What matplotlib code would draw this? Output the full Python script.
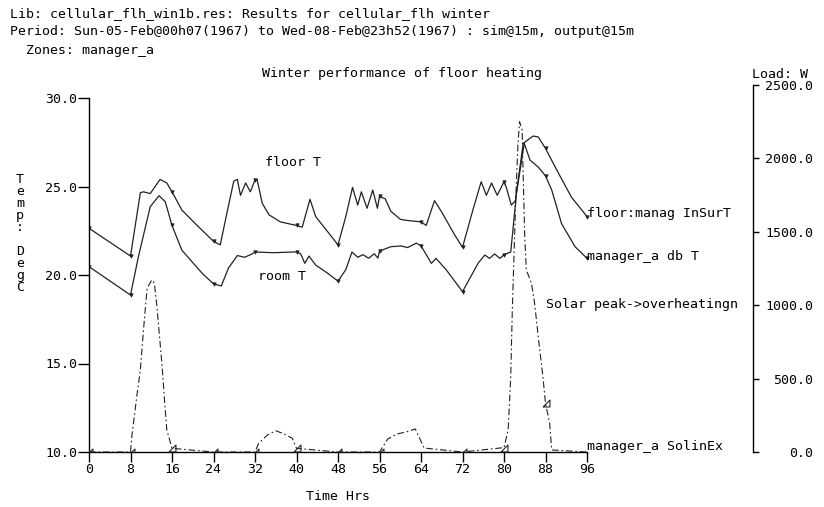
import matplotlib
matplotlib.use('Agg')
import matplotlib.pyplot as plt
from matplotlib.ticker import FixedLocator

# ---------------- data ----------------
floor_h = [0, 8, 9.9, 10.5, 11.8, 13.7, 15.0, 16.0, 17.9, 20.5, 24.0, 25.3, 26.3, 27.9, 28.6,
           29.2, 30.2, 31.1, 32.0, 32.4, 33.4, 34.7, 36.9, 40.0, 41.1, 42.6, 43.7, 46.0, 48.0,
           49.5, 50.8, 51.8, 52.5, 53.6, 54.7, 55.6, 56.0, 57.1, 58.2, 60.0, 60.8, 64.0, 65.0,
           66.6, 67.9, 70.5, 72.0, 74.0, 75.6, 76.6, 77.6, 78.7, 80.0, 80.5, 81.4, 82.2, 83.7,
           85.6, 86.6, 88.0, 90.5, 93.0, 96.0]
floor_T = [22.64, 21.07, 24.65, 24.7, 24.6, 25.4, 25.2, 24.7, 23.67, 22.9, 21.9, 21.7, 23.1, 25.3, 25.4,
           24.5, 25.2, 24.7, 25.37, 25.4, 24.05, 23.4, 23.0, 22.8, 22.7, 24.28, 23.3, 22.45, 21.7,
           23.3, 24.95, 23.95, 24.7, 23.77, 24.8, 23.77, 24.45, 24.3, 23.6, 23.15, 23.1, 23.0, 22.8,
           24.2, 23.6, 22.26, 21.56, 23.67, 25.27, 24.5, 25.2, 24.5, 25.27, 24.9, 23.95, 24.2, 27.44,
           27.85, 27.8, 27.15, 25.75, 24.4, 23.3]

room_h = [0, 8, 9.5, 11.8, 13.5, 14.7, 16.0, 17.9, 21.8, 24.0, 25.5, 26.9, 28.6, 30.0, 31.5,
          32.0, 35.6, 39.5, 40.0, 40.8, 41.6, 42.4, 43.7, 46.0, 48.0, 49.5, 50.7, 51.8, 52.8, 53.9,
          55.0, 55.7, 56.0, 58.2, 60.2, 61.4, 63.1, 64.0, 66.0, 66.9, 68.9, 72.0, 75.0, 76.3,
          77.2, 78.2, 79.2, 80.0, 81.3, 82.4, 83.9, 85.0, 86.6, 88.0, 89.2, 91.1, 93.7, 96.0]
room_T = [20.47, 18.87, 21.0, 23.86, 24.48, 24.14, 22.8, 21.4, 20.1, 19.5, 19.38, 20.4, 21.1, 21.0, 21.2,
          21.3, 21.26, 21.3, 21.3, 21.2, 20.66, 21.07, 20.56, 20.1, 19.65, 20.3, 21.3, 21.0, 21.15, 20.95,
          21.2, 20.95, 21.35, 21.6, 21.64, 21.55, 21.8, 21.65, 20.66, 20.94, 20.28, 19.06, 20.66, 21.13,
          20.94, 21.19, 20.94, 21.15, 21.3, 24.6, 27.44, 26.5, 26.1, 25.6, 24.8, 22.9, 21.6, 20.94]

sol_h = [0, 8, 8.25, 9.2, 9.9, 10.5, 11.2, 12.1, 12.6, 13.1, 14.1, 14.6, 15.0, 16, 24, 32, 32.7,
         34.4, 36.0, 37.6, 39.2, 40, 48, 56, 57.6, 59.4, 61.1, 62.9, 63.5, 64.6, 72, 80, 80.8,
         81.3, 81.6, 81.9, 82.3, 82.7, 83.0, 83.5, 83.7, 84.0, 84.3, 85.3, 85.9, 86.6, 87.5,
         88, 88.8, 89.2, 96]
sol_W = [0, 0, 104, 377, 559, 831, 1115, 1172, 1149, 990, 581, 332, 150, 25, 0, 0, 59,
         116, 145, 123, 93, 25, 0, 0, 89, 123, 136, 157, 111, 27, 0, 30, 150,
         513, 967, 1308, 1762, 2103, 2250, 2193, 1875, 1467, 1240, 1149, 1013, 785, 513,
         332, 196, 14, 0]

x_ticks = [0, 8, 16, 24, 32, 40, 48, 56, 64, 72, 80, 88, 96]
t_ticks = [10, 15, 20, 25, 30]
w_ticks = [0, 500, 1000, 1500, 2000, 2500]

header = ["Lib: cellular_flh_win1b.res: Results for cellular_flh winter",
          "Period: Sun-05-Feb@00h07(1967) to Wed-08-Feb@23h52(1967) : sim@15m, output@15m",
          "  Zones: manager_a"]
title = "Winter performance of floor heating"
ylabel_left = "Temp: DegC"
ylabel_right = "Load: W"
xlabel = "Time Hrs"

# ---------------- layout ----------------
W, H = 824, 507
FONT = 'DejaVu Sans Mono'
FS = 9.5
plt.rcParams['font.family'] = FONT
plt.rcParams['font.size'] = FS

fig = plt.figure(figsize=(W / 100, H / 100), dpi=100)
fig.patch.set_facecolor('white')

def fx(px):
    return px / W

def fy(py):
    return 1 - py / H

PX_HR = 5.1875
PX_DEG = 17.7
L, R, B, T = 89, 753, 452, 85
PT = 0.72  # points per pixel

ax = fig.add_axes([fx(L), fy(B), (R - L) / W, (B - T) / H])
ax.set_xlim(0, (R - L) / PX_HR)
ax.set_ylim(10, 10 + (B - T) / PX_DEG)
ax.patch.set_alpha(0)
ax2 = ax.twinx()
ax2.set_ylim(0, 2500)
ax2.patch.set_alpha(0)

for s in ['top', 'right']:
    ax.spines[s].set_visible(False)
for s in ['top', 'left', 'bottom']:
    ax2.spines[s].set_visible(False)
ax.spines['left'].set_bounds(10, 30)
ax.spines['bottom'].set_bounds(0, 96)
for sp in [ax.spines['left'], ax.spines['bottom'], ax2.spines['right']]:
    sp.set_linewidth(1.0)
    sp.set_color('black')

ax.set_xticks(x_ticks)
ax.set_xticklabels([str(v) for v in x_ticks])
ax.set_yticks(t_ticks)
ax.set_yticklabels([f"{v:.1f}" for v in t_ticks])
ax.tick_params(axis='x', direction='out', length=10 * PT, width=1.0, pad=1, labelsize=FS)
ax.tick_params(axis='y', direction='out', length=11 * PT, width=1.0, pad=0.5, labelsize=FS)

ax2.set_yticks(w_ticks)
ax2.set_yticklabels([f"{v:.1f}" for v in w_ticks])
ax2.yaxis.set_minor_locator(FixedLocator([0]))
ax2.tick_params(axis='y', which='major', direction='out', length=6 * PT, width=1.0,
                pad=(813 - R - 6) * PT, labelsize=FS)
ax2.tick_params(axis='y', which='minor', direction='out', length=17 * PT, width=1.0)
for lab in ax2.get_yticklabels():
    lab.set_horizontalalignment('right')

# ---------------- curves ----------------
f_mk = [i for i, h in enumerate(floor_h) if h % 8 == 0]
r_mk = [i for i, h in enumerate(room_h) if h % 8 == 0]
ax.plot(floor_h, floor_T, color='#222222', lw=0.9, marker='v', markevery=f_mk,
        markersize=2.5, markeredgewidth=0.5)
ax.plot(room_h, room_T, color='#222222', lw=0.9, marker='v', markevery=r_mk,
        markersize=2.5, markeredgewidth=0.5)
mk_idx = [i for i, h in enumerate(sol_h) if h % 8 == 0 and h < 96]
tri = [(-1, -1), (1, -1), (1, 1), (-1, -1)]
ax2.plot(sol_h, sol_W, color='#222222', lw=0.8, linestyle=(0, (6, 2.5, 1.5, 2.5)),
         marker=tri, markevery=mk_idx, markersize=5, markerfacecolor='none',
         markeredgecolor='#222222', markeredgewidth=0.8)

# ---------------- labels ----------------
ax.text(33.9, 26.33, "floor T", ha='left', va='center', fontsize=FS)
ax.text(32.6, 19.94, "room T", ha='left', va='center', fontsize=FS)
ax.text(96, 23.5, "floor:manag InSurT", ha='left', va='center', fontsize=FS)
ax.text(96, 21.07, "manager_a db T", ha='left', va='center', fontsize=FS)
ax.text(96, 10.3, "manager_a SolinEx", ha='left', va='center', fontsize=FS)
ax.text(88.1, 18.36, "Solar peak->overheatingn", ha='left', va='center', fontsize=FS)

for i, line in enumerate(header):
    fig.text(fx(10), fy(14 + i * 18), line, ha='left', va='center', fontsize=FS)
fig.text(fx(402), fy(73), title, ha='center', va='center', fontsize=FS)
fig.text(fx(752), fy(75), ylabel_right, ha='left', va='center', fontsize=FS)
fig.text(fx(338), fy(497), xlabel, ha='center', va='center', fontsize=FS)
stack = "\n".join(ylabel_left.replace(" ", "")).replace(":\n", ":\n\n")
fig.text(fx(20), fy(173), stack, ha='center', va='top', fontsize=FS, linespacing=0.9)

fig.savefig('out.png', dpi=100, facecolor='white')
